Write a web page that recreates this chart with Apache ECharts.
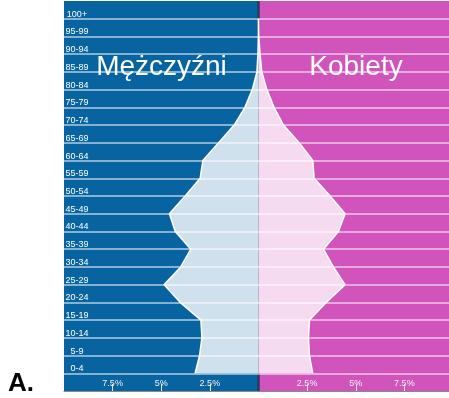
<!DOCTYPE html>
<html>
<head>
<meta charset="utf-8">
<script src="https://cdn.jsdelivr.net/npm/echarts@6/dist/echarts.min.js"></script>
<style>
  html, body { margin: 0; padding: 0; background: #ffffff; }
  #chart { width: 449px; height: 398px; }
</style>
</head>
<body>
<div id="chart"></div>
<script>
// Age groups from youngest to oldest
const ageGroups = ['0-4', '5-9', '10-14', '15-19', '20-24', '25-29', '30-34', '35-39', '40-44', '45-49',
  '50-54', '55-59', '60-64', '65-69', '70-74', '75-79', '80-84', '85-89', '90-94', '95-99', '100+'];
// Share of total population (%)
const male = [3.26, 3.03, 2.91, 2.96, 4.03, 4.85, 4.0, 3.48, 4.28, 4.58,
  3.77, 3.0, 2.86, 2.05, 1.25, 0.7, 0.32, 0.08, 0.03, 0.01, 0];
const female = [2.79, 2.62, 2.57, 2.62, 3.48, 4.45, 3.85, 3.34, 4.11, 4.45,
  3.68, 2.86, 2.79, 2.09, 1.28, 0.8, 0.43, 0.17, 0.08, 0.02, 0];
const tickValues = [-7.5, -5, -2.5, 2.5, 5, 7.5];

const FONT = '"Liberation Sans", Arial, sans-serif';
const BLUE = '#0864a0';
const PINK = '#d054bc';

// one empty slot below (axis strip) and one above the oldest group
const categories = [''].concat(ageGroups, [' ']);
const pad = arr => [null].concat(arr, [null]);

const chart = echarts.init(document.getElementById('chart'), null, { renderer: 'canvas' });

chart.setOption({
  animation: false,
  grid: { left: 64, right: -4, top: 1, height: 390, containLabel: false, outerBoundsMode: 'none' },
  xAxis: {
    type: 'value',
    min: -10,
    max: 10,
    z: 10,
    axisLine: { show: true, lineStyle: { color: '#8a8a8a', width: 1 } },
    axisTick: {
      show: true, inside: true, length: 7, customValues: tickValues,
      lineStyle: { color: '#e4e4e4', width: 1 }
    },
    axisLabel: {
      inside: true, margin: 3, customValues: tickValues,
      color: '#f2f2f2', fontSize: 9, fontFamily: FONT,
      formatter: v => Math.abs(v) + '%'
    },
    splitLine: { show: false }
  },
  yAxis: {
    type: 'category',
    data: categories,
    boundaryGap: false,
    z: 10,
    axisLine: { show: false },
    axisTick: { show: false },
    axisLabel: {
      inside: true, interval: 0, margin: 13, align: 'center', verticalAlign: 'bottom',
      color: '#ffffff', fontSize: 9, fontFamily: FONT, padding: 0
    },
    splitLine: {
      show: true,
      interval: (idx) => idx > 0 && idx < categories.length - 1,
      lineStyle: { color: 'rgba(255,255,255,0.5)', width: 2 }
    }
  },
  series: [
    {
      // panel backgrounds
      type: 'line', z: 1, silent: true, data: pad(male.map(() => null)),
      markArea: {
        z: 0,
        silent: true,
        label: { show: false },
        data: [
          [{ xAxis: -10, itemStyle: { color: BLUE, opacity: 1 } }, { xAxis: 0 }],
          [{ xAxis: 0, itemStyle: { color: PINK, opacity: 1 } }, { xAxis: 10 }]
        ]
      }
    },
    {
      // centre divider
      type: 'line', z: 1, silent: true, data: pad(male.map(() => null)),
      markLine: {
        z: 1,
        silent: true, symbol: 'none', label: { show: false },
        lineStyle: { color: '#2a3a5c', width: 2.5, type: 'solid' },
        data: [{ xAxis: 0 }]
      }
    },
    {
      name: 'Mężczyźni',
      type: 'line', z: 2,
      data: pad(male.map(v => -v)),
      symbol: 'none',
      lineStyle: { color: '#ffffff', width: 1.5 },
      areaStyle: { color: '#cfe1ec', opacity: 1 }
    },
    {
      name: 'Kobiety',
      type: 'line', z: 2,
      data: pad(female),
      symbol: 'none',
      lineStyle: { color: '#ffffff', width: 1.5 },
      areaStyle: { color: '#f5daf0', opacity: 1 }
    }
  ],
  graphic: [
    {
      type: 'text', x: 161.5, y: 67, z: 20,
      style: { text: 'Mężczyźni', fill: '#ffffff', font: '28px ' + FONT, align: 'center', verticalAlign: 'middle' }
    },
    {
      type: 'text', x: 356, y: 67, z: 20,
      style: { text: 'Kobiety', fill: '#ffffff', font: '28px ' + FONT, align: 'center', verticalAlign: 'middle' }
    },
    {
      type: 'text', x: 8, y: 384, z: 20,
      style: { text: 'A.', fill: '#000000', font: 'bold 26px ' + FONT, align: 'left', verticalAlign: 'middle' }
    }
  ]
});
</script>
</body>
</html>
